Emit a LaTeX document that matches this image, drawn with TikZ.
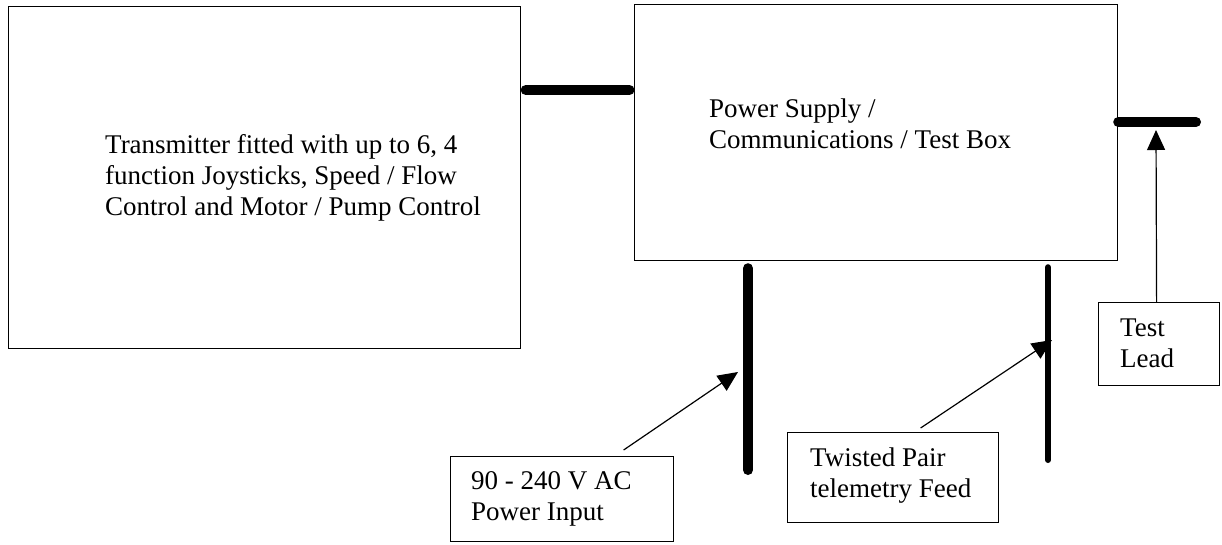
\documentclass[tikz,border=0pt]{standalone}
\usepackage{fontspec}
\setmainfont{Liberation Serif}
\usetikzlibrary{arrows.meta,positioning}
\newcommand\lblfont{\fontsize{27}{31}\selectfont}

\begin{document}
\begin{tikzpicture}[x=1pt, y=-1pt, >={Triangle[length=20pt, width=18pt]},
  box/.style={draw, line width=1.2pt, inner sep=0, anchor=north west},
  lbl/.style={anchor=base west, align=left, inner sep=0, font=\lblfont},
  cable/.style={line width=10pt, line cap=round},
  pointer/.style={->, line width=1.2pt}]
  \useasboundingbox (0,0) rectangle (1222,544);
  % boxes
  \node[box, minimum width=512pt, minimum height=342pt] (tx) at (8,6) {};
  \node[box, minimum width=483pt, minimum height=256pt] (psu) at (634,4) {};
  \node[box, minimum width=223pt, minimum height=85pt] (ac) at (450,456) {};
  \node[box, minimum width=211pt, minimum height=90pt] (tp) at (787,432) {};
  \node[box, minimum width=121pt, minimum height=83pt] (tl) at (1098,302) {};
  % texts (base = last line)
  \node[lbl] (txtext) at (105,215) {Transmitter fitted with up to 6, 4\\function Joysticks, Speed / Flow\\Control and Motor / Pump Control};
  \node[lbl] (psutext) at (709,148) {Power Supply /\\Communications / Test Box};
  \node[lbl] (actext) at (471,520) {90 - 240 V AC\\Power Input};
  \node[lbl] (tptext) at (810,497) {Twisted Pair\\telemetry Feed};
  \node[lbl] (tltext) at (1120,367) {Test\\Lead};
  % cables
  \coordinate (acend) at (748,470);
  \coordinate (tpend) at (1048,460);
  \coordinate (leadend) at (1196,122);
  \coordinate (actip) at (738,372);
  \coordinate (tptip) at (1052,340);
  \coordinate (tltip) at (1156,130);
  \draw[cable] ([xshift=4.5pt]tx.east |- 0,90) -- ([xshift=-4.5pt]psu.west |- 0,90);
  \draw[cable] ([yshift=-7pt]psu.south -| acend) -- (acend);
  \draw[cable, line width=6pt] ([yshift=-6pt]psu.south -| tpend) -- (tpend);
  \draw[cable] (psu.east |- leadend) -- (leadend);
  % pointers
  \draw[pointer] ([xshift=61.5pt, yshift=6pt]ac.north) -- (actip);
  \draw[pointer] ([xshift=27.5pt, yshift=4pt]tp.north) -- (tptip);
  \draw[pointer] ([xshift=-2.5pt]tl.north) -- (tltip);
\end{tikzpicture}
\end{document}
